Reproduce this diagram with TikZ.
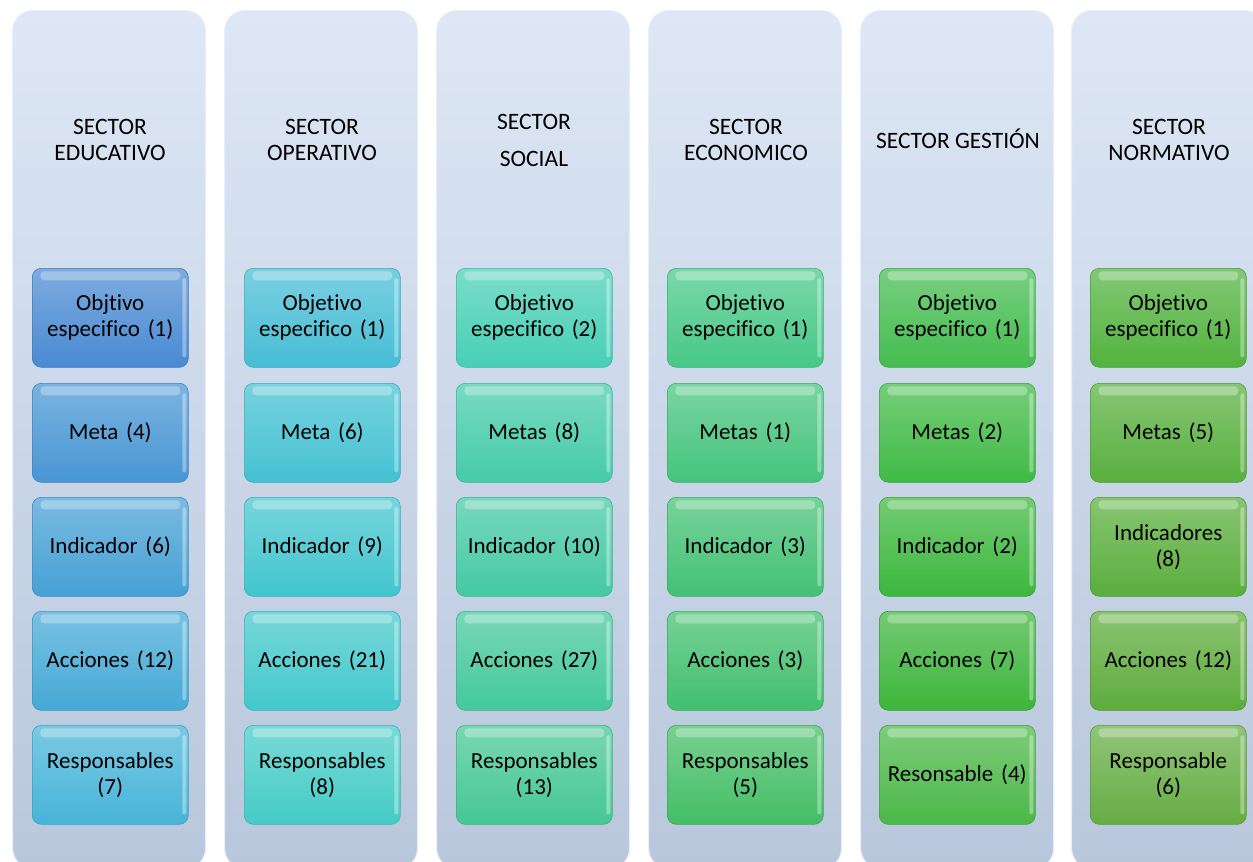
\documentclass[tikz,border=0pt]{standalone}
\usepackage{fontspec}
\setmainfont{Carlito}[Ligatures=NoCommon]
\definecolor{colTop}{HTML}{DDE7F5}
\definecolor{colBot}{HTML}{B9C7DC}
\definecolor{colEdge}{HTML}{E9EFF8}
% box colours: column a..f, row 1..5
\definecolor{a1}{HTML}{4A8AD3}\definecolor{a2}{HTML}{4896D4}\definecolor{a3}{HTML}{46A0D5}\definecolor{a4}{HTML}{45A9D6}\definecolor{a5}{HTML}{47B4D8}
\definecolor{b1}{HTML}{47BDD5}\definecolor{b2}{HTML}{44C1D2}\definecolor{b3}{HTML}{42C5CF}\definecolor{b4}{HTML}{43C8CB}\definecolor{b5}{HTML}{45CBC6}
\definecolor{c1}{HTML}{47CFB5}\definecolor{c2}{HTML}{45CBAA}\definecolor{c3}{HTML}{44C9A3}\definecolor{c4}{HTML}{44C89C}\definecolor{c5}{HTML}{45C794}
\definecolor{d1}{HTML}{47C888}\definecolor{d2}{HTML}{45C47D}\definecolor{d3}{HTML}{43C175}\definecolor{d4}{HTML}{42BF6E}\definecolor{d5}{HTML}{44BE66}
\definecolor{e1}{HTML}{44BC4F}\definecolor{e2}{HTML}{40BA45}\definecolor{e3}{HTML}{3DB73E}\definecolor{e4}{HTML}{3DB53B}\definecolor{e5}{HTML}{4BB847}
\definecolor{f1}{HTML}{52B33E}\definecolor{f2}{HTML}{58B03E}\definecolor{f3}{HTML}{5AAE3C}\definecolor{f4}{HTML}{5EAC3C}\definecolor{f5}{HTML}{66AD44}
\tikzset{
  colbox/.style={rounded corners=20pt, top color=colTop, bottom color=colBot,
    draw=colEdge, line width=1.2pt, minimum width=193pt, minimum height=858pt,
    anchor=north west, inner sep=0pt},
  headtxt/.style={font=\fontsize{23.5}{26}\selectfont, align=center, text=black, inner sep=0pt},
  itembox/.style={rounded corners=9pt, top color=#1!72!white, bottom color=#1,
    draw=#1!88!black, line width=0.6pt,
    minimum width=156pt, minimum height=99pt, anchor=north west, inner sep=2pt,
    text width=150pt, align=center, font=\fontsize{23}{26}\selectfont, text=black,
    path picture={
      \fill[white,opacity=0.3,rounded corners=4pt]
        ([xshift=8pt,yshift=-3pt]path picture bounding box.north west) rectangle
        ([xshift=-8pt,yshift=-12pt]path picture bounding box.north east);
      \fill[white,opacity=0.35,rounded corners=2pt]
        ([xshift=-6pt,yshift=-10pt]path picture bounding box.north east) rectangle
        ([xshift=-2pt,yshift=10pt]path picture bounding box.south east);
    }},
}
\begin{document}
\begin{tikzpicture}[x=1pt,y=-1pt]
\useasboundingbox (0,0) rectangle (1253,862);
\fill[white] (0,0) rectangle (1253,862);
\begin{scope}
\clip (0,0) rectangle (1253,862);
% columns
\node[colbox] (col1) at (12,10) {};
\node[colbox] (col2) at (224,10) {};
\node[colbox] (col3) at (436,10) {};
\node[colbox] (col4) at (648,10) {};
\node[colbox] (col5) at (860,10) {};
\node[colbox] (col6) at (1071,10) {};
\end{scope}
% headers
\node[headtxt] (h1) at (110,140) {SECTOR\\EDUCATIVO};
\node[headtxt] (h2) at (322,140) {SECTOR\\OPERATIVO};
\node[headtxt, font=\fontsize{23.5}{37}\selectfont] (h3) at (534,140) {SECTOR\\SOCIAL};
\node[headtxt] (h4) at (746,140) {SECTOR\\ECONOMICO};
\node[headtxt] (h5) at (958,139) {SECTOR GESTIÓN};
\node[headtxt] (h6) at (1169,140) {SECTOR\\NORMATIVO};
% column 1
\node[itembox=a1] (a1n) at (32,268) {Objtivo\\especifico (1)};
\node[itembox=a2] (a2n) at (32,383) {Meta (4)};
\node[itembox=a3] (a3n) at (32,497) {Indicador (6)};
\node[itembox=a4] (a4n) at (32,611) {Acciones (12)};
\node[itembox=a5] (a5n) at (32,725) {Responsables\\(7)};
% column 2
\node[itembox=b1] (b1n) at (244,268) {Objetivo\\especifico (1)};
\node[itembox=b2] (b2n) at (244,383) {Meta (6)};
\node[itembox=b3] (b3n) at (244,497) {Indicador (9)};
\node[itembox=b4] (b4n) at (244,611) {Acciones (21)};
\node[itembox=b5] (b5n) at (244,725) {Responsables\\(8)};
% column 3
\node[itembox=c1] (c1n) at (456,268) {Objetivo\\especifico (2)};
\node[itembox=c2] (c2n) at (456,383) {Metas (8)};
\node[itembox=c3] (c3n) at (456,497) {Indicador (10)};
\node[itembox=c4] (c4n) at (456,611) {Acciones (27)};
\node[itembox=c5] (c5n) at (456,725) {Responsables\\(13)};
% column 4
\node[itembox=d1] (d1n) at (667,268) {Objetivo\\especifico (1)};
\node[itembox=d2] (d2n) at (667,383) {Metas (1)};
\node[itembox=d3] (d3n) at (667,497) {Indicador (3)};
\node[itembox=d4] (d4n) at (667,611) {Acciones (3)};
\node[itembox=d5] (d5n) at (667,725) {Responsables\\(5)};
% column 5
\node[itembox=e1] (e1n) at (879,268) {Objetivo\\especifico (1)};
\node[itembox=e2] (e2n) at (879,383) {Metas (2)};
\node[itembox=e3] (e3n) at (879,497) {Indicador (2)};
\node[itembox=e4] (e4n) at (879,611) {Acciones (7)};
\node[itembox=e5] (e5n) at (879,725) {Resonsable (4)};
% column 6
\node[itembox=f1] (f1n) at (1090,268) {Objetivo\\especifico (1)};
\node[itembox=f2] (f2n) at (1090,383) {Metas (5)};
\node[itembox=f3] (f3n) at (1090,497) {Indicadores\\(8)};
\node[itembox=f4] (f4n) at (1090,611) {Acciones (12)};
\node[itembox=f5] (f5n) at (1090,725) {Responsable\\(6)};
\end{tikzpicture}
\end{document}
